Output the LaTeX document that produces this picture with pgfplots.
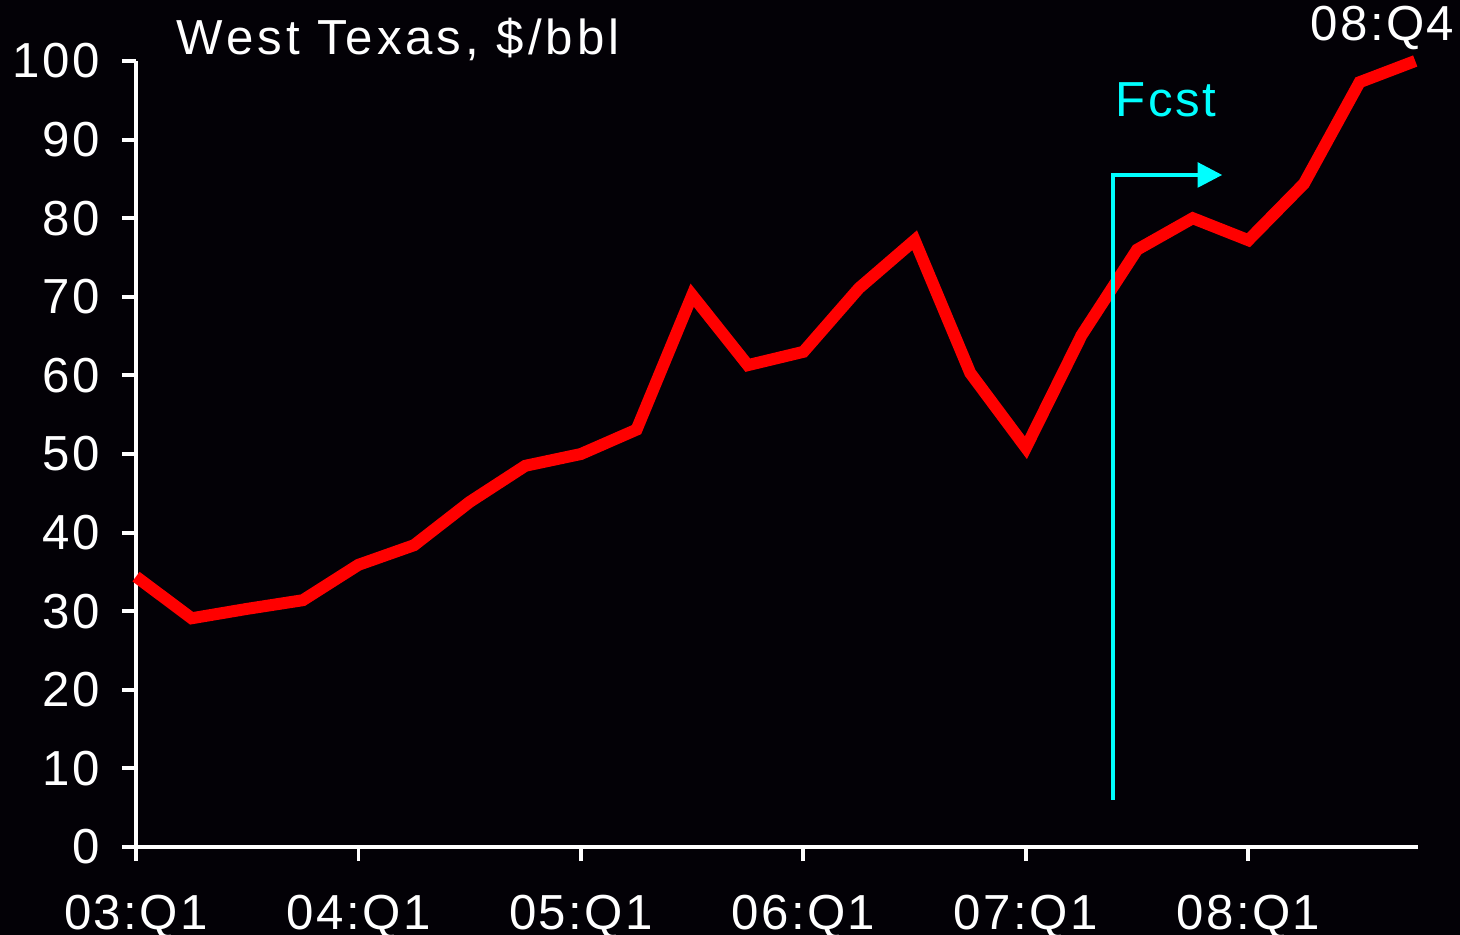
\documentclass[border=0pt]{standalone}
\usepackage{pgfplots}
\pgfplotsset{compat=1.18}
\usepackage{fontspec}
\setmainfont{Liberation Sans}[LetterSpace=5]
\usetikzlibrary{arrows.meta}
\definecolor{fc}{RGB}{0,255,255}
\definecolor{bg}{RGB}{3,1,6}
\begin{document}
\fontsize{14}{16}\selectfont
\begin{tikzpicture}[font=\fontsize{14}{16}\selectfont]
\fill[bg, use as bounding box] (-13.6mm,-8.8mm) rectangle (132.4mm,84.7mm);
\begin{axis}[
  at={(0,0)}, anchor=south west,
  scale only axis, width=128.2mm, height=78.6mm,
  xmin=0, xmax=23.05, ymin=0, ymax=100,
  axis x line*=bottom, axis y line*=left,
  axis line style={white, line width=1.1pt, -},
  tick style={white, line width=1.1pt},
  tick align=outside, major tick length=4pt,
  xtick={0,4,8,12,16,20},
  xticklabels={03:Q1,04:Q1,05:Q1,06:Q1,07:Q1,08:Q1},
  ytick={0,10,...,100},
  /pgf/number format/assume math mode=true,
  tick label style={white, font=\fontsize{14}{16}\selectfont},
  xticklabel style={inner sep=0pt, yshift=-9.5pt},
  yticklabel style={xshift=-1.5pt},
  clip=false,
]
\addplot[red, line width=3.4pt, line join=miter, line cap=butt] coordinates {
(0,34.4) (1,29.1) (2,30.3) (3,31.4) (4,35.9) (5,38.4) (6,43.9) (7,48.5)
(8,50.0) (9,53.1) (10,70.2) (11,61.3) (12,63.0) (13,71.1) (14,77.2) (15,60.3)
(16,50.8) (17,65.1) (18,76.0) (19,80.0) (20,77.2) (21,84.4) (22,97.3) (23,100)
};
\addplot[fc, line width=1.1pt, -{Triangle[length=7pt,width=7pt]}] coordinates {(17.57,6) (17.57,85.5) (19.53,85.5)};
\node[fc] at (axis cs:18.52,95) {Fcst};
\node[white, anchor=west, inner sep=0pt] at (axis cs:0.72,102.7) {\addfontfeatures{LetterSpace=8}West Texas, \$/bbl};
\node[white] at (axis cs:22.41,104.2) {08:Q4};
\end{axis}
\end{tikzpicture}
\end{document}
